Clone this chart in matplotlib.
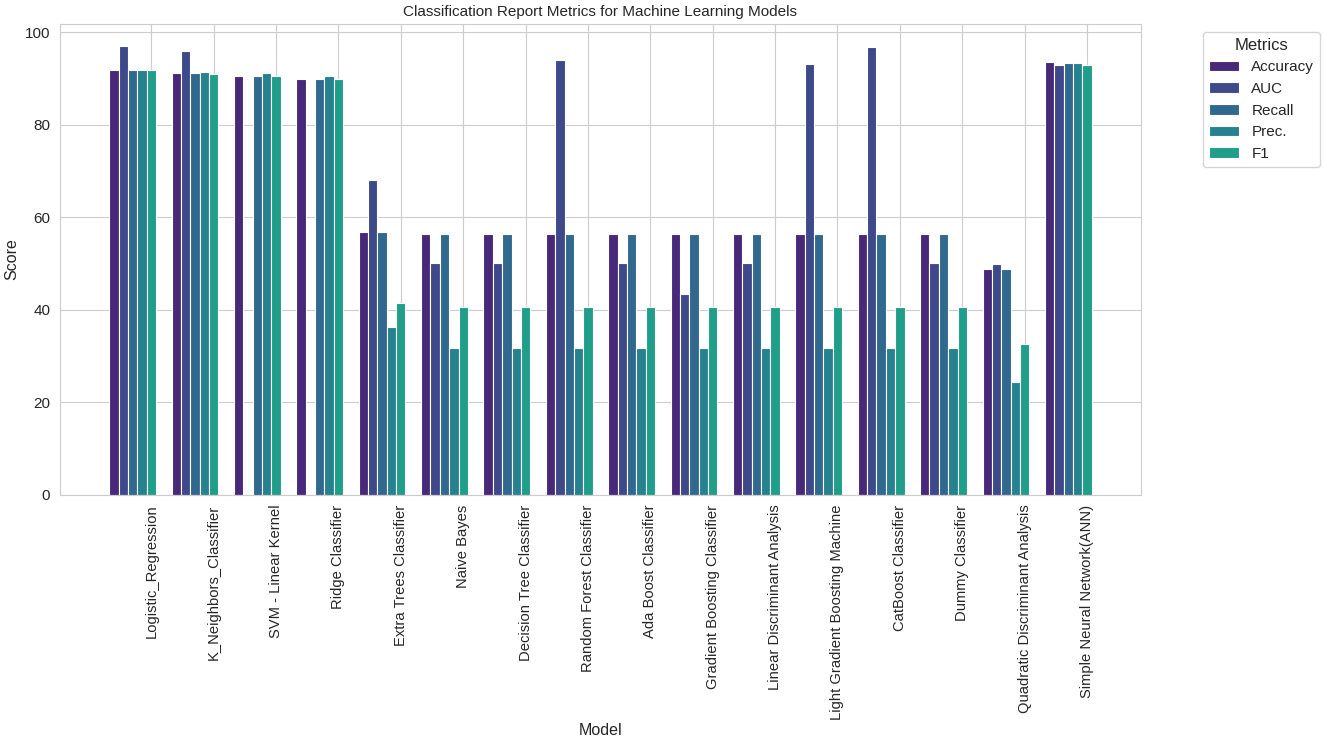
import numpy as np
import matplotlib
matplotlib.use("Agg")
import matplotlib.pyplot as plt
import seaborn as sns

models = [
    "Logistic_Regression", "K_Neighbors_Classifier", "SVM - Linear Kernel",
    "Ridge Classifier", "Extra Trees Classifier", "Naive Bayes",
    "Decision Tree Classifier", "Random Forest Classifier", "Ada Boost Classifier",
    "Gradient Boosting Classifier", "Linear Discriminant Analysis",
    "Light Gradient Boosting Machine", "CatBoost Classifier", "Dummy Classifier",
    "Quadratic Discriminant Analysis", "Simple Neural Network(ANN)",
]
metrics = ["Accuracy", "AUC", "Recall", "Prec.", "F1"]

accuracy = [91.7, 91.1, 90.5, 89.8, 56.7, 56.3, 56.3, 56.3, 56.3, 56.3, 56.3, 56.3, 56.3, 56.3, 48.9, 93.5]
auc = [96.9, 95.9, 0.0, 0.0, 68.0, 50.0, 50.0, 94.0, 50.0, 43.4, 50.0, 93.1, 96.7, 50.0, 49.9, 92.9]
recall = [91.7, 91.1, 90.5, 89.8, 56.7, 56.3, 56.3, 56.3, 56.3, 56.3, 56.3, 56.3, 56.3, 56.3, 48.9, 93.3]
prec = [91.9, 91.3, 91.1, 90.6, 36.2, 31.7, 31.7, 31.7, 31.7, 31.7, 31.7, 31.7, 31.7, 31.7, 24.3, 93.3]
f1 = [91.7, 90.9, 90.5, 89.8, 41.5, 40.6, 40.6, 40.6, 40.6, 40.6, 40.6, 40.6, 40.6, 40.6, 32.5, 92.9]

sns.set_style("whitegrid")
plt.rcParams['font.family'] = ['Liberation Sans', 'DejaVu Sans']

series = [accuracy, auc, recall, prec, f1]
colors = plt.cm.viridis(np.arange(1, 6) / 9)

fig, ax = plt.subplots(figsize=(13.25, 7.42), dpi=100)
fig.subplots_adjust(left=0.0453, right=0.861, top=0.9677, bottom=0.333)

x = np.arange(len(models))
width = 0.15
for i, (name, vals) in enumerate(zip(metrics, series)):
    ax.bar(x - (4 - i) * width, vals, width, label=name, color=colors[i],
           edgecolor='white', linewidth=0.8)

ax.set_xticks(x)
ax.set_xticklabels(models, rotation=90, fontsize=10.6)
ax.tick_params(axis='y', labelsize=11)
ax.set_title('Classification Report Metrics for Machine Learning Models', fontsize=11)
ax.set_xlabel('Model', fontsize=11.5, labelpad=2)
ax.set_ylabel('Score', fontsize=11.5)
ax.legend(title='Metrics', bbox_to_anchor=(1.05, 1), loc='upper left',
          fontsize=11, title_fontsize=12)

fig.savefig('out.png', dpi=100)
